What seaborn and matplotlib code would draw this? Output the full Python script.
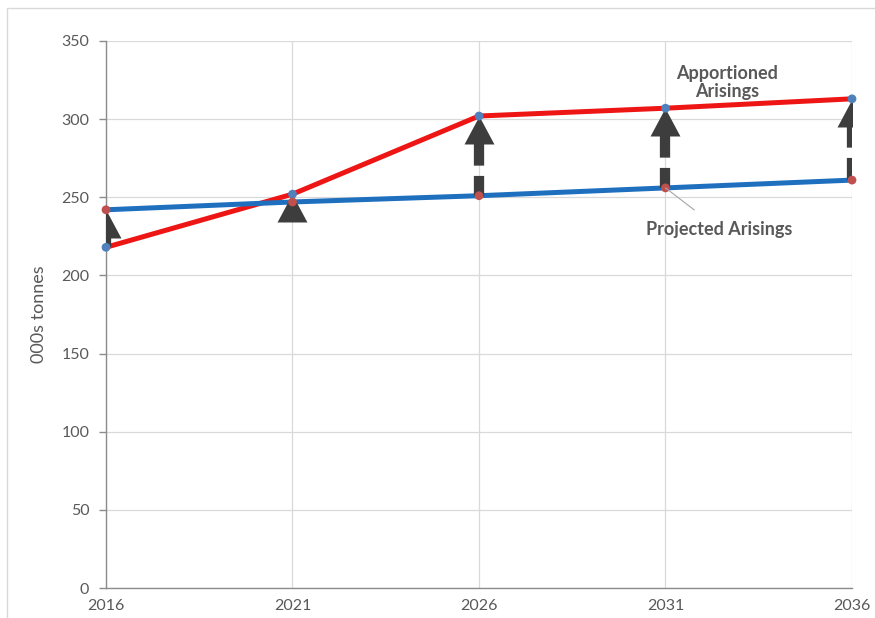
import numpy as np
import pandas as pd
import matplotlib
matplotlib.use("Agg")
import matplotlib.pyplot as plt
from matplotlib.path import Path
from matplotlib.patches import Rectangle
import seaborn as sns

# Waste arisings, thousand tonnes
years = [2016, 2021, 2026, 2031, 2036]
apportioned = [218, 252, 302, 307, 313]
projected = [242, 247, 251, 256, 261]
y_ticks = [0, 50, 100, 150, 200, 250, 300, 350]

sns.set_style("white")
plt.rcParams["font.family"] = ["Lato", "DejaVu Sans"]

df = pd.DataFrame({"year": years, "Apportioned": apportioned, "Projected": projected})

fig = plt.figure(figsize=(8.75, 6.18), dpi=100)
ax = fig.add_axes([106 / 875, 1 - 588 / 618, 746 / 875, 547 / 618])

text_grey = "#595959"
axis_grey = "#8c8c8c"
arrow_col = "#3d3d3d"

# Series lines
sns.lineplot(data=df, x="year", y="Apportioned", ax=ax, color="#ee1515",
             linewidth=3.6, zorder=2, solid_capstyle="round")
sns.lineplot(data=df, x="year", y="Projected", ax=ax, color="#1f6fbf",
             linewidth=3.6, zorder=2, solid_capstyle="round")

ax.set_xlim(2016, 2036)
ax.set_ylim(0, 350)
ax.set_xticks(years)
ax.set_yticks(y_ticks)
ax.grid(True, color="#d9d9d9", linewidth=0.9)
ax.set_axisbelow(True)

for side in ("top", "right"):
    ax.spines[side].set_visible(False)
for side in ("left", "bottom"):
    ax.spines[side].set_color(axis_grey)
    ax.spines[side].set_linewidth(1.0)

ax.tick_params(axis="y", length=5, width=1.0, color=axis_grey, pad=7,
               labelsize=11.5, labelcolor=text_grey, left=True)
ax.tick_params(axis="x", length=0, pad=8, labelsize=11.5, labelcolor=text_grey)
ax.set_xlabel("")
ax.set_ylabel("000s tonnes", fontsize=13, color=text_grey, labelpad=10)

# Arrow heads: triangle with its apex at the marker anchor
head_path = Path([(0, 0), (-0.535, -1), (0.535, -1), (0, 0)],
                 [Path.MOVETO, Path.LINETO, Path.LINETO, Path.CLOSEPOLY])
head_px = 28
fig.canvas.draw()
px_per_unit = abs(ax.transData.transform((0, 1))[1] - ax.transData.transform((0, 0))[1])
head_units = head_px / px_per_unit * (fig.dpi / 100)

for x, a, p in zip(years, apportioned, projected):
    lo, hi = min(a, p), max(a, p)
    base = hi - head_units
    if base > lo:
        ax.plot([x, x], [base + 1.5, lo], color=arrow_col, linewidth=7.4,
                linestyle=(0, (2.3, 1.0)), solid_capstyle="butt",
                dash_capstyle="butt", zorder=3)
    ax.plot([x], [hi], marker=head_path, markersize=40.3, color=arrow_col,
            markeredgewidth=0, linestyle="none", zorder=3)

# Point markers
sns.scatterplot(x=years, y=apportioned, ax=ax, color="#4f81bd", s=40,
                edgecolor="none", zorder=4, clip_on=False)
sns.scatterplot(x=years, y=projected, ax=ax, color="#c0504d", s=40,
                edgecolor="none", zorder=4, clip_on=False)

# Series labels
ax.text(2032.65, 323.5, "Apportioned\nArisings", ha="center", va="center",
        fontsize=13, fontweight="bold", color=text_grey, linespacing=1.12,
        zorder=5)
ax.annotate("Projected Arisings", xy=(years[3], projected[3]),
            xytext=(2032.45, 229.5), ha="center", va="center", fontsize=13,
            fontweight="bold", color=text_grey, zorder=5,
            arrowprops=dict(arrowstyle="-", color="#a6a6a6", lw=0.8,
                            shrinkA=9, shrinkB=0))

# Chart-area frame
fig.patches.append(Rectangle((7 / 875, -0.1), 2.0, 1.1 - 8 / 618,
                             transform=fig.transFigure, fill=False,
                             edgecolor="#d9d9d9", linewidth=1.0))

fig.savefig("out.png", dpi=100)
